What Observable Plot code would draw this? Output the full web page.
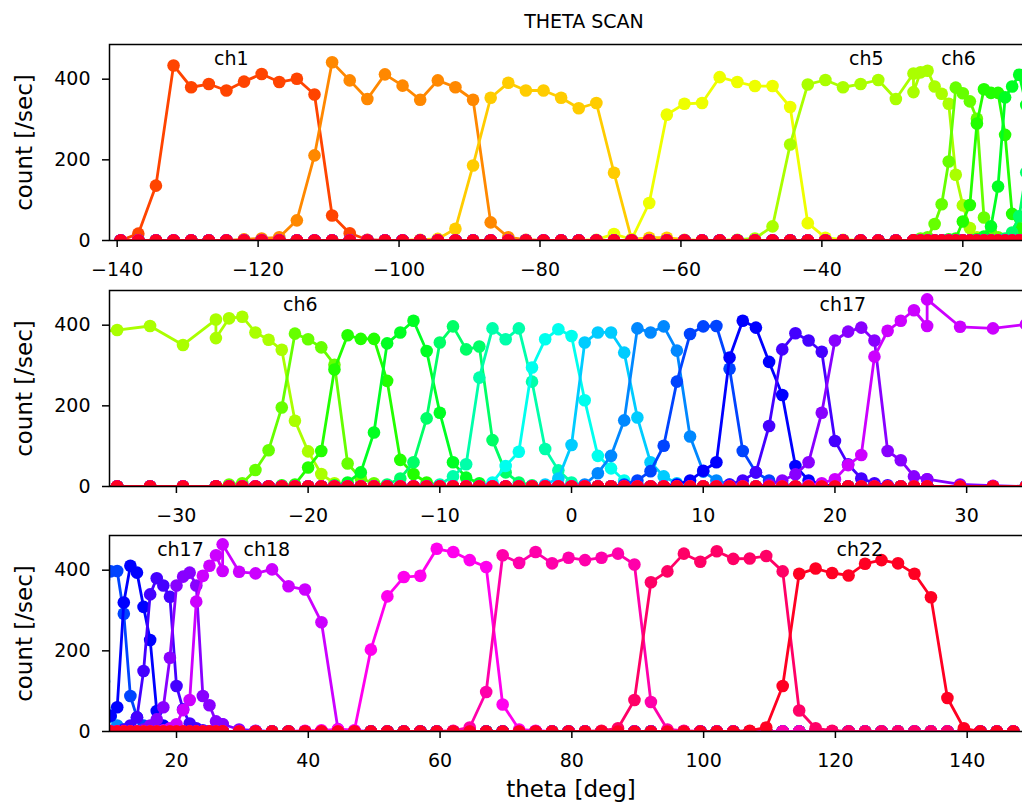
<!DOCTYPE html>
<html><head><meta charset="utf-8">
<script src="https://cdn.jsdelivr.net/npm/d3@7"></script>
<script src="https://cdn.jsdelivr.net/npm/@observablehq/plot@0.6"></script>
<style>
body{margin:0;background:#fff;}
#wrap{position:relative;width:1022px;height:802px;overflow:hidden;font-family:"DejaVu Sans",sans-serif;background:#fff;}
.txt{position:absolute;line-height:1;white-space:nowrap;color:#000;transform:translateX(-50%);}
.panel{position:absolute;left:0;}
</style></head><body>
<div id="wrap">
  <div class="txt" style="left:584px;top:12px;font-size:19px;">THETA SCAN</div>
  <div class="txt" style="left:571px;top:778px;font-size:23px;">theta [deg]</div>
</div>
<script>
// ---- theta sampling (coarse scan, fine scan, coarse scan) ----
const thetaCoarseLow = [-139.5,-137,-134.5,-132,-129.5,-127,-124.5,-122,-119.5,-117,-114.5,-112,-109.5,-107,-104.5,-102,-99.5,-97,-94.5,-92,-89.5,-87,-84.5,-82,-79.5,-77,-74.5,-72,-69.5,-67,-64.5,-62,-59.5,-57,-54.5,-52,-49.5,-47,-44.5,-42,-39.5,-37,-34.5,-32,-29.5,-27];
const thetaFine = [-27,-26,-25,-24,-23,-22,-21,-20,-19,-18,-17,-16,-15,-14,-13,-12,-11,-10,-9,-8,-7,-6,-5,-4,-3,-2,-1,0,1,2,3,4,5,6,7,8,9,10,11,12,13,14,15,16,17,18,19,20,21,22,23,24,25,26,27];
const thetaCoarseHigh = [27,29.5,32,34.5,37,39.5,42,44.5,47,49.5,52,54.5,57,59.5,62,64.5,67,69.5,72,74.5,77,79.5,82,84.5,87,89.5,92,94.5,97,99.5,102,104.5,107,109.5,112,114.5,117,119.5,122,124.5,127,129.5,132,134.5,137,139.5,142,144.5,147];
const theta = [...thetaCoarseLow, ...thetaFine, ...thetaCoarseHigh];

// ---- counts per channel: non-zero window, starting at index chStart (0 elsewhere) ----
const ch1  = [0,17,136,434,380,388,372,394,413,393,401,362,62,18,2];
const ch2  = [3,5,8,50,211,442,397,351,412,384,349,397,380,349,45,8,2];
const ch3  = [0,2,4,29,186,354,391,372,372,354,328,341,168,3,7,7,2];
const ch4  = [0,2,16,3,93,312,339,341,405,393,383,383,331,43,7,2];
const ch5  = [0,2,5,35,238,387,398,380,388,398,351,414,368,417,421,382,364,339,163,87,31,8,2];
const ch6  = [5,8,41,90,196,379,365,345,302,57,20,8,3];
const ch7  = [3,5,47,88,290,375,366,366,262,66,31,10,3];
const ch8  = [3,10,35,134,355,382,411,336,183,60,22,8];
const ch9  = [5,20,60,169,357,397,340,347,115,35,10,3];
const ch10 = [5,25,55,270,392,365,392,260,93,40,10,3];
const ch11 = [10,51,86,295,365,390,373,214,76,45,15,5];
const ch12 = [5,20,103,357,382,382,332,171,60,25,8];
const ch13 = [5,33,76,164,392,382,397,337,124,37,15,5];
const ch14 = [5,15,38,101,260,378,397,398,292,88,35,15,5];
const ch15 = [5,15,39,60,320,411,394,309,227,51,15,5];
const ch16 = [5,15,35,150,340,380,362,334,113,55,20,8,3];
const ch17 = [5,15,30,60,183,362,384,394,362,88,65,25,18,18,5,2];
const ch18 = [3,8,18,53,78,322,386,411,437,398,464,396,392,402,360,352,271,6,2];
const ch19 = [2,3,5,3,203,335,383,386,453,445,425,408,67,5,2];
const ch20 = [2,10,98,437,418,445,417,431,425,431,441,414,73,5,2];
const ch21 = [2,8,78,370,397,441,421,447,428,429,435,397,52,8,2];
const ch22 = [2,10,113,391,404,393,387,416,425,417,391,333,83,8,0];
const chStart = [0,7,16,26,34,47,51,55,59,63,67,71,74,77,81,85,88,91,106,115,124,133];
const chValues = [ch1,ch2,ch3,ch4,ch5,ch6,ch7,ch8,ch9,ch10,ch11,ch12,ch13,ch14,ch15,ch16,ch17,ch18,ch19,ch20,ch21,ch22];

// ---- ticks and labels ----
const xTicks1 = [-140,-120,-100,-80,-60,-40,-20];
const xTicks2 = [-30,-20,-10,0,10,20,30];
const xTicks3 = [20,40,60,80,100,120,140];
const yTicks = [0,200,400];
const labNames1 = ["ch1","ch5","ch6"], labTheta1 = [-123.8,-33.7,-20.6];
const labNames2 = ["ch6","ch17"],      labTheta2 = [-20.6,20.6];
const labNames3 = ["ch17","ch18","ch22"], labTheta3 = [20.6,33.7,123.7];
const labelCount = 450;

// ---- build ----
const rows = chValues.map((vals, k) => theta.map((t, i) => {
  const j = i - chStart[k];
  return {theta: t, count: (j >= 0 && j < vals.length) ? vals[j] : 0};
}));
const colors = chValues.map((_, k) => d3.hsl(16 * (k + 1), 1, 0.5).formatHex());
const fmt = d => d < 0 ? "\u2212" + Math.abs(d) : String(d);

function panel(domain, ticks, names, thetas, top) {
  const marks = [];
  rows.forEach((r, k) => {
    marks.push(Plot.line(r, {x: "theta", y: "count", stroke: colors[k], strokeWidth: 2.8, clip: true}));
    marks.push(Plot.dot(r, {x: "theta", y: "count", r: 6.3, fill: colors[k], clip: true}));
  });
  marks.push(Plot.frame({stroke: "black", strokeWidth: 1.5}));
  marks.push(Plot.axisX({ticks, tickFormat: fmt, tickSize: 7, tickPadding: 14.5, fontSize: 19, strokeWidth: 1.5, label: null}));
  marks.push(Plot.axisY({ticks: yTicks, tickSize: 7, tickPadding: 12, fontSize: 19, strokeWidth: 1.5, label: null}));
  marks.push(Plot.text(names, {x: thetas, y: names.map(() => labelCount), text: d => d, fontSize: 19, fill: "black", textAnchor: "middle", lineAnchor: "middle"}));
  marks.push(Plot.text(["count [/sec]"], {frameAnchor: "left", dx: -85, rotate: -90, fontSize: 23, fill: "black", textAnchor: "middle", lineAnchor: "middle"}));
  const svg = Plot.plot({
    width: 1062, height: 242,
    marginLeft: 109, marginRight: 3, marginTop: 6, marginBottom: 40,
    x: {domain, axis: null},
    y: {domain: [0, 486], axis: null},
    style: {fontFamily: "DejaVu Sans", background: "none", color: "black"},
    marks
  });
  svg.classList.add("panel");
  svg.style.top = top + "px";
  svg.style.maxWidth = "none";
  document.getElementById("wrap").appendChild(svg);
}

panel([-141.09, -6.28], xTicks1, labNames1, labTheta1, 38);
panel([-35.08, 37.05], xTicks2, labNames2, labTheta2, 284);
panel([9.83, 154.01], xTicks3, labNames3, labTheta3, 529);
</script>
</body></html>
